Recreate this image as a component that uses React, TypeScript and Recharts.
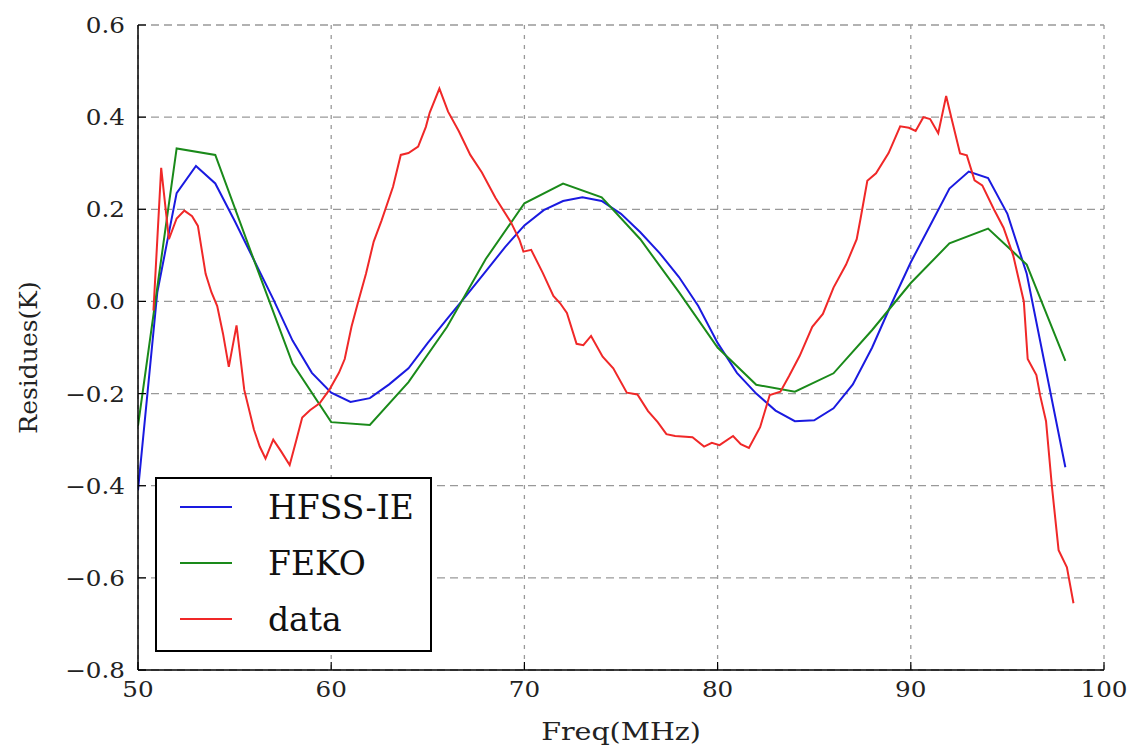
import React from "react";
import { LineChart, Line, XAxis, YAxis, CartesianGrid, Legend } from "recharts";

// tick values
const xTicks = [50, 60, 70, 80, 90, 100];
const yTicks = [-0.8, -0.6, -0.4, -0.2, 0, 0.2, 0.4, 0.6];

// [freq MHz, residue K]
const hfssIE: [number, number][] = [
  [50, -0.41], [51, 0.02], [52, 0.235], [53, 0.294], [54, 0.256], [55, 0.175],
  [56, 0.09], [57, 0.005], [58, -0.085], [59, -0.155], [60, -0.198], [61, -0.218],
  [62, -0.21], [63, -0.18], [64, -0.145], [65, -0.09], [66, -0.038], [67, 0.013],
  [68, 0.065], [69, 0.118], [70, 0.165], [71, 0.198], [72, 0.218], [73, 0.226],
  [74, 0.218], [75, 0.19], [76, 0.15], [77, 0.105], [78, 0.053], [79, -0.01],
  [80, -0.09], [81, -0.155], [82, -0.2], [83, -0.237], [84, -0.26], [85, -0.258],
  [86, -0.232], [87, -0.18], [88, -0.1], [89, -0.005], [90, 0.085], [91, 0.165],
  [92, 0.245], [93, 0.282], [94, 0.268], [95, 0.19], [96, 0.06], [97, -0.15],
  [98, -0.36],
];

const feko: [number, number][] = [
  [50, -0.27], [52, 0.332], [54, 0.318], [56, 0.09], [58, -0.135], [60, -0.262],
  [62, -0.268], [64, -0.175], [66, -0.055], [68, 0.092], [70, 0.213], [72, 0.256],
  [74, 0.226], [76, 0.135], [78, 0.02], [80, -0.1], [82, -0.181], [84, -0.196],
  [86, -0.156], [88, -0.062], [90, 0.04], [92, 0.126], [94, 0.158], [96, 0.08],
  [98, -0.129],
];

const measured: [number, number][] = [
  [50.8, -0.02], [51.2, 0.29], [51.6, 0.135], [52.0, 0.18], [52.4, 0.197],
  [52.8, 0.185], [53.1, 0.164], [53.5, 0.06], [53.8, 0.02], [54.1, -0.01],
  [54.4, -0.07], [54.7, -0.142], [55.1, -0.052], [55.5, -0.192], [56.0, -0.278],
  [56.3, -0.315], [56.6, -0.341], [57.0, -0.3], [57.4, -0.325], [57.85, -0.355],
  [58.2, -0.3], [58.5, -0.252], [58.9, -0.236], [59.4, -0.221], [59.9, -0.192],
  [60.4, -0.155], [60.7, -0.125], [61.05, -0.055], [61.4, 0.0], [61.8, 0.06],
  [62.2, 0.13], [62.6, 0.175], [63.2, 0.249], [63.6, 0.318], [64.0, 0.322],
  [64.5, 0.336], [64.9, 0.379], [65.1, 0.41], [65.6, 0.462], [66.05, 0.412],
  [66.6, 0.37], [67.2, 0.318], [67.8, 0.28], [68.5, 0.225], [69.3, 0.172],
  [69.75, 0.133], [69.95, 0.108], [70.35, 0.112], [70.95, 0.062], [71.5, 0.012],
  [71.85, -0.004], [72.2, -0.025], [72.7, -0.092], [73.05, -0.095], [73.45, -0.075],
  [74.05, -0.12], [74.6, -0.145], [75.3, -0.198], [75.85, -0.202], [76.4, -0.238],
  [76.9, -0.262], [77.35, -0.288], [77.8, -0.292], [78.7, -0.295], [79.3, -0.315],
  [79.7, -0.307], [80.1, -0.312], [80.8, -0.292], [81.2, -0.31], [81.62, -0.318],
  [82.2, -0.273], [82.7, -0.203], [83.25, -0.196], [83.7, -0.162], [84.25, -0.118],
  [84.9, -0.055], [85.45, -0.027], [86.0, 0.03], [86.65, 0.08], [87.2, 0.135],
  [87.4, 0.18], [87.75, 0.262], [88.2, 0.278], [88.85, 0.322], [89.45, 0.38],
  [89.9, 0.377], [90.25, 0.37], [90.65, 0.4], [91.0, 0.396], [91.42, 0.365],
  [91.83, 0.446], [92.15, 0.39], [92.55, 0.321], [92.9, 0.317], [93.3, 0.263],
  [93.7, 0.252], [94.3, 0.2], [94.8, 0.16], [95.3, 0.1], [95.85, 0.0],
  [96.05, -0.125], [96.5, -0.16], [96.7, -0.205], [97.0, -0.26], [97.3, -0.4],
  [97.65, -0.54], [98.08, -0.577], [98.42, -0.655],
];

const series = [
  { name: "HFSS-IE", color: "#1a1ae0", points: hfssIE },
  { name: "FEKO", color: "#1a8a1a", points: feko },
  { name: "data", color: "#f02828", points: measured },
];

const FONT = "'DejaVu Serif', serif";
const TICK_LEN = 8;
const STRETCH = 1.12; // reference text is a little wider than the font

const fmtY = (v: number) => (v < 0 ? "\u2212" : "") + Math.abs(v).toFixed(1);

const BottomTick = ({ x, y, payload }: any) => (
  <g>
    <line x1={x} x2={x} y1={y} y2={y - TICK_LEN} stroke="#000" strokeWidth={1.2} />
    <text
      transform={`translate(${x} ${y + 27}) scale(${STRETCH} 1)`}
      textAnchor="middle"
      fontSize={22}
      fontFamily={FONT}
      fill="#222"
    >
      {payload.value}
    </text>
  </g>
);

const TopTick = ({ x, y }: any) => (
  <line x1={x} x2={x} y1={y} y2={y + TICK_LEN} stroke="#000" strokeWidth={1.2} />
);

const LeftTick = ({ x, y, payload }: any) => (
  <g>
    <line x1={x} x2={x + TICK_LEN} y1={y} y2={y} stroke="#000" strokeWidth={1.2} />
    <text
      transform={`translate(${x - 13} ${y + 8}) scale(${STRETCH} 1)`}
      textAnchor="end"
      fontSize={22}
      fontFamily={FONT}
      fill="#222"
    >
      {fmtY(payload.value)}
    </text>
  </g>
);

const RightTick = ({ x, y }: any) => (
  <line x1={x} x2={x - TICK_LEN} y1={y} y2={y} stroke="#000" strokeWidth={1.2} />
);

const YTitle = ({ viewBox }: any) => {
  const cx = 28;
  const cy = viewBox.y + viewBox.height / 2 + 10;
  return (
    <text
      x={cx}
      y={cy}
      transform={`rotate(-90 ${cx} ${cy})`}
      textAnchor="middle"
      dominantBaseline="central"
      fontSize={25}
      fontFamily={FONT}
      fill="#222"
    >
      Residues(K)
    </text>
  );
};

const XTitle = ({ viewBox }: any) => (
  <text
    transform={`translate(${viewBox.x + viewBox.width / 2} 740) scale(1.14 1)`}
    textAnchor="middle"
    fontSize={25}
    fontFamily={FONT}
    fill="#222"
  >
    Freq(MHz)
  </text>
);

const LegendBox = () => (
  <div
    style={{
      width: 277,
      height: 175,
      boxSizing: "border-box",
      border: "2px solid #000",
      background: "#fff",
      fontFamily: FONT,
      fontSize: 33,
      color: "#111",
    }}
  >
    {series.map((s) => (
      <div key={s.name} style={{ display: "flex", alignItems: "center", height: 56 }}>
        <svg width={52} height={4} style={{ marginLeft: 23, marginRight: 36 }}>
          <line x1={0} x2={52} y1={2} y2={2} stroke={s.color} strokeWidth={2} />
        </svg>
        <span style={{ lineHeight: 1 }}>{s.name}</span>
      </div>
    ))}
  </div>
);

export default function App() {
  return (
    <div style={{ width: 1130, height: 749, background: "#fff" }}>
      <style>{"body{margin:0}"}</style>
      <LineChart width={1130} height={749} margin={{ top: 25, right: 26, bottom: 0, left: 0 }}>
        <CartesianGrid
          xAxisId="bottom"
          yAxisId="left"
          horizontal={false}
          stroke="#999"
          strokeDasharray="4 6"
          strokeWidth={1.3}
        />
        <CartesianGrid
          xAxisId="bottom"
          yAxisId="left"
          vertical={false}
          stroke="#999"
          strokeDasharray="8 5"
          strokeWidth={1.3}
        />
        <XAxis
          xAxisId="bottom"
          dataKey="freq"
          type="number"
          domain={[50, 100]}
          ticks={xTicks}
          allowDataOverflow
          height={79}
          tickSize={0}
          tickMargin={0}
          tickLine={false}
          tick={<BottomTick />}
          axisLine={{ stroke: "#000", strokeWidth: 1.5 }}
          label={<XTitle />}
        />
        <XAxis
          xAxisId="top"
          orientation="top"
          dataKey="freq"
          type="number"
          domain={[50, 100]}
          ticks={xTicks}
          allowDataOverflow
          height={0}
          tickSize={0}
          tickMargin={0}
          tickLine={false}
          tick={<TopTick />}
          axisLine={{ stroke: "#000", strokeWidth: 1.5 }}
        />
        <YAxis
          yAxisId="left"
          type="number"
          domain={[-0.8, 0.6]}
          ticks={yTicks}
          allowDataOverflow
          width={138}
          tickSize={0}
          tickMargin={0}
          tickLine={false}
          tick={<LeftTick />}
          axisLine={{ stroke: "#000", strokeWidth: 1.5 }}
          label={<YTitle />}
        />
        <YAxis
          yAxisId="right"
          orientation="right"
          type="number"
          domain={[-0.8, 0.6]}
          ticks={yTicks}
          allowDataOverflow
          width={0}
          tickSize={0}
          tickMargin={0}
          tickLine={false}
          tick={<RightTick />}
          axisLine={{ stroke: "#000", strokeWidth: 1.5 }}
        />
        <Legend
          layout="vertical"
          align="center"
          verticalAlign="middle"
          content={<LegendBox />}
          wrapperStyle={{ left: 155, top: 477, width: 277, height: 175 }}
        />
        {series.map((s) => (
          <Line
            key={s.name}
            xAxisId="bottom"
            yAxisId="left"
            name={s.name}
            data={s.points.map(([freq, res]) => ({ freq, res }))}
            dataKey="res"
            type="linear"
            stroke={s.color}
            strokeWidth={2}
            dot={false}
            activeDot={false}
            isAnimationActive={false}
          />
        ))}
      </LineChart>
    </div>
  );
}
